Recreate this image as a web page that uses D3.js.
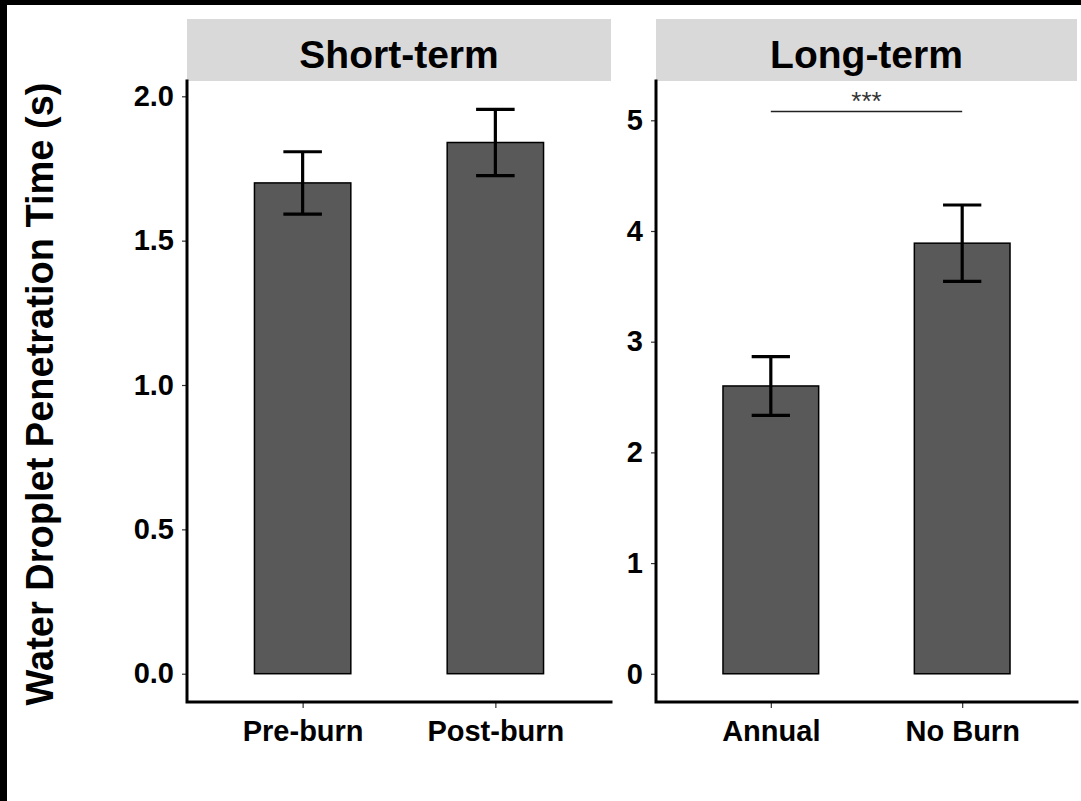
<!DOCTYPE html>
<meta charset="utf-8">
<style>
body { margin: 0; background: white; }
text { font-family: "Liberation Sans", Arial, sans-serif; }
.axis text { font-weight: bold; font-size: 29px; fill: black; }
.axis .tick line { stroke: #333; stroke-width: 1.2px; }
.axis .domain { display: none; }
</style>
<body>
<script src="https://d3js.org/d3.v7.min.js"></script>
<script>
var width = 1081,
    height = 801;

// data (mean +/- se)
var shortCats = ["Pre-burn", "Post-burn"],
    shortMeans = [1.70, 1.84],
    shortSE = [0.108, 0.115];

var longCats = ["Annual", "No Burn"],
    longMeans = [2.60, 3.89],
    longSE = [0.265, 0.345];

var shortTicks = [0, 0.5, 1.0, 1.5, 2.0],
    longTicks = [0, 1, 2, 3, 4, 5];

var shortDomain = [-0.098, 2.053],
    longDomain = [-0.255, 5.355];

var sigPair = ["Annual", "No Burn"],
    sigLevel = 5.08,
    sigLabel = "***";

var plotTop = 81, plotBottom = 702, stripTop = 19;

var svg = d3.select("body").append("svg")
    .attr("width", width)
    .attr("height", height);

svg.append("rect").attr("width", width).attr("height", height).attr("fill", "white");
// black frame pieces at the edges of the original
svg.append("rect").attr("x", 0).attr("y", 0).attr("width", width).attr("height", 5).attr("fill", "black");
svg.append("rect").attr("x", 0).attr("y", 0).attr("width", 7).attr("height", height).attr("fill", "black");

var panels = [
  {title: "Short-term", x0: 187, x1: 611, cats: shortCats, means: shortMeans, se: shortSE,
   ticks: shortTicks, domain: shortDomain, fmt: d3.format(".1f")},
  {title: "Long-term", x0: 656, x1: 1077, cats: longCats, means: longMeans, se: longSE,
   ticks: longTicks, domain: longDomain, fmt: d3.format("d")}
];

panels.forEach(function(p, pi) {
  var g = svg.append("g");

  var x = d3.scalePoint()
      .domain(p.cats)
      .range([p.x0, p.x1])
      .padding(0.6);

  var y = d3.scaleLinear()
      .domain(p.domain)
      .range([plotBottom, plotTop]);

  var bw = x.step() * 0.5,
      cw = x.step() * 0.2;

  // strip
  g.append("rect")
      .attr("x", p.x0).attr("y", stripTop)
      .attr("width", p.x1 - p.x0).attr("height", plotTop - stripTop)
      .attr("fill", "#d9d9d9");
  g.append("text")
      .attr("x", (p.x0 + p.x1) / 2).attr("y", 68)
      .attr("text-anchor", "middle")
      .style("font-weight", "bold").style("font-size", "39px")
      .text(p.title);

  var rows = p.cats.map(function(c, i) {
    return {cat: c, mean: p.means[i], se: p.se[i]};
  });

  // bars
  g.selectAll(".bar")
      .data(rows)
      .enter().append("rect")
      .attr("x", function(d) { return x(d.cat) - bw / 2; })
      .attr("y", function(d) { return y(d.mean); })
      .attr("width", bw)
      .attr("height", function(d) { return y(0) - y(d.mean); })
      .attr("fill", "#595959")
      .attr("stroke", "black")
      .attr("stroke-width", 1.5);

  // error bars
  var eb = g.selectAll(".err")
      .data(rows)
      .enter().append("g")
      .attr("stroke", "black")
      .attr("stroke-width", 3.2);
  eb.append("line")
      .attr("x1", function(d) { return x(d.cat); })
      .attr("x2", function(d) { return x(d.cat); })
      .attr("y1", function(d) { return y(d.mean - d.se); })
      .attr("y2", function(d) { return y(d.mean + d.se); });
  eb.append("line")
      .attr("x1", function(d) { return x(d.cat) - cw / 2; })
      .attr("x2", function(d) { return x(d.cat) + cw / 2; })
      .attr("y1", function(d) { return y(d.mean + d.se); })
      .attr("y2", function(d) { return y(d.mean + d.se); });
  eb.append("line")
      .attr("x1", function(d) { return x(d.cat) - cw / 2; })
      .attr("x2", function(d) { return x(d.cat) + cw / 2; })
      .attr("y1", function(d) { return y(d.mean - d.se); })
      .attr("y2", function(d) { return y(d.mean - d.se); });

  // axes
  g.append("g")
      .attr("class", "axis")
      .attr("transform", "translate(" + p.x0 + ",0)")
      .call(d3.axisLeft(y).tickValues(p.ticks).tickFormat(p.fmt).tickSize(5).tickPadding(8));
  g.append("g")
      .attr("class", "axis")
      .attr("transform", "translate(0," + plotBottom + ")")
      .call(d3.axisBottom(x).tickSize(6).tickPadding(12));

  g.append("path")
      .attr("d", "M" + p.x0 + "," + plotTop + "V" + plotBottom + "H" + p.x1)
      .attr("fill", "none")
      .attr("stroke", "black")
      .attr("stroke-width", 3)
      .attr("stroke-linecap", "square");

  // significance bracket
  if (pi === 1) {
    g.append("line")
        .attr("x1", x(sigPair[0])).attr("x2", x(sigPair[1]))
        .attr("y1", y(sigLevel)).attr("y2", y(sigLevel))
        .attr("stroke", "#222").attr("stroke-width", 1.6);
    g.append("text")
        .attr("x", (x(sigPair[0]) + x(sigPair[1])) / 2)
        .attr("y", y(sigLevel) - 1)
        .attr("text-anchor", "middle")
        .style("font-size", "26px")
        .attr("fill", "#333")
        .text(sigLabel);
  }
});

// y title
svg.append("text")
    .attr("transform", "translate(53,394) rotate(-90)")
    .attr("text-anchor", "middle")
    .style("font-weight", "bold").style("font-size", "38px")
    .text("Water Droplet Penetration Time (s)");
</script>
</body>
